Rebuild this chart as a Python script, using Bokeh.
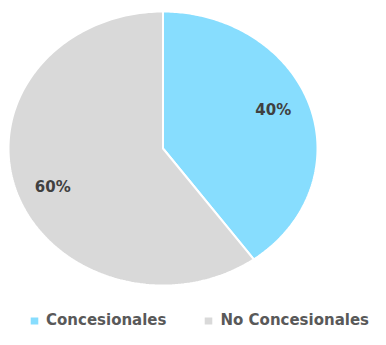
import numpy as np
from bokeh.plotting import figure
from bokeh.models import ColumnDataSource, Range1d, Legend, LegendItem
from bokeh.embed import file_html
from bokeh.resources import INLINE
from bokeh.core.properties import value

# ---- data ----
categories = ["Concesionales", "No Concesionales"]
values = [40, 60]
pct_labels = ["40%", "60%"]
colors = ["#87DDFE", "#D9D9D9"]

# ---- layout (pixels) ----
W, H = 370, 329
cx_px, cy_px = 162.5, 148.0     # pie centre, from frame top-left
rx_px, ry_px = 154.5, 137.0     # elliptical radii (stretched chart)

x_range = Range1d(-cx_px / rx_px, (W - cx_px) / rx_px)
y_range = Range1d(-(H - cy_px) / ry_px, cy_px / ry_px)

p = figure(width=W, height=H, x_range=x_range, y_range=y_range,
           output_backend="svg", toolbar_location=None,
           x_axis_location=None, y_axis_location=None,
           min_border=0, outline_line_color=None,
           background_fill_color="white", border_fill_color="white")
p.grid.visible = False

# ---- slices from values ----
vals = np.array(values, dtype=float)
fracs = vals / vals.sum()
ends = np.pi / 2 - 2 * np.pi * np.cumsum(fracs)
starts = np.concatenate([[np.pi / 2], ends[:-1]])

xs, ys, lx, ly = [], [], [], []
for s, e in zip(starts, ends):
    t = np.linspace(s, e, 200)
    xs.append(np.concatenate([[0.0], np.cos(t)]).tolist())
    ys.append(np.concatenate([[0.0], np.sin(t)]).tolist())
    m = (s + e) / 2
    lx.append(0.75 * np.cos(m))
    ly.append(0.91 * np.sin(m))

src = ColumnDataSource(dict(xs=xs, ys=ys, color=colors, cat=categories))
r = p.patches("xs", "ys", source=src, fill_color="color",
              line_color="white", line_width=2)

lab_src = ColumnDataSource(dict(x=lx, y=ly, t=pct_labels))
p.text("x", "y", text="t", source=lab_src, text_align="center",
       text_baseline="middle", text_font=value("DejaVu Sans"),
       text_font_style="bold", text_font_size="15px", text_color="#404040")

legend = Legend(items=[LegendItem(label=c, renderers=[r], index=i)
                       for i, c in enumerate(categories)],
                orientation="horizontal", location=(28, 0),
                glyph_width=12, glyph_height=11, label_standoff=6,
                spacing=36, padding=0, margin=0,
                border_line_alpha=0, background_fill_alpha=0,
                label_text_font="DejaVu Sans", label_text_font_style="bold",
                label_text_font_size="15px", label_text_color="#595959")
p.add_layout(legend)

open("out.html", "w").write(file_html(p, INLINE))
